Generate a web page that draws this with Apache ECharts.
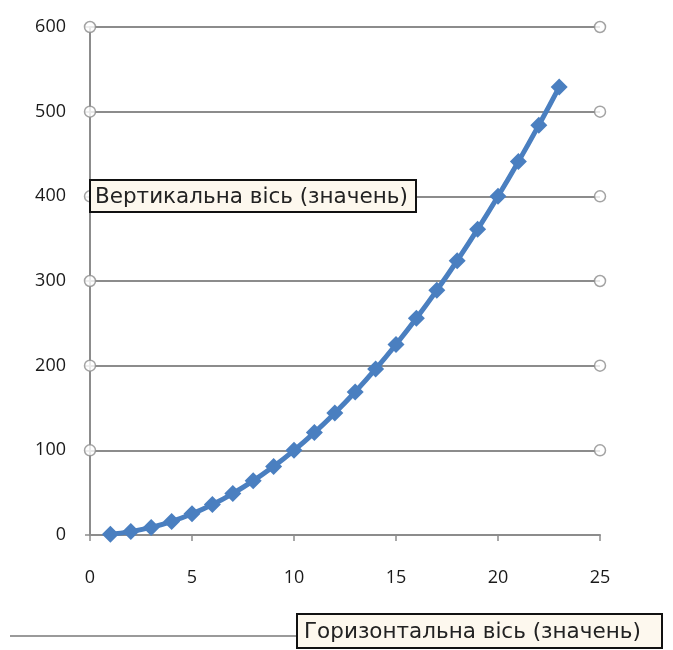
<!DOCTYPE html>
<html>
<head>
<meta charset="utf-8">
<script src="https://cdn.jsdelivr.net/npm/echarts@6/dist/echarts.min.js"></script>
<style>
  html, body { margin: 0; padding: 0; background: #fff; }
  #chart { width: 673px; height: 650px; }
</style>
</head>
<body>
<div id="chart"></div>
<script>
  // values
  const xValues = [1, 2, 3, 4, 5, 6, 7, 8, 9, 10, 11, 12, 13, 14, 15, 16, 17, 18, 19, 20, 21, 22, 23]
  const yValues = [1, 4, 9, 16, 25, 36, 49, 64, 81, 100, 121, 144, 169, 196, 225, 256, 289, 324, 361, 400, 441, 484, 529]
  const yTicks = [100, 200, 300, 400, 500, 600]
  const vLabel = "Вертикальна вісь (значень)"
  const hLabel = "Горизонтальна вісь (значень)"

  const points = xValues.map((x, i) => [x, yValues[i]])
  // little circles at both ends of every gridline
  const gridEnds = []
  yTicks.forEach((t) => {
    gridEnds.push([0, t])
    gridEnds.push([25, t])
  })

  const font = "'Open Sans', 'DejaVu Sans', sans-serif"
  const boxFont = "'DejaVu Sans', sans-serif"
  const myChart = echarts.init(document.getElementById("chart"))
  const option = {
    backgroundColor: "#fff",
    animation: false,
    grid: { left: 90, right: 73, top: 27, bottom: 115 },
    xAxis: {
      type: "value",
      min: 0,
      max: 25,
      interval: 5,
      axisLine: { show: true, lineStyle: { color: "#8c8c8c", width: 2 } },
      axisTick: { show: true, length: 6, lineStyle: { color: "#8c8c8c", width: 1.5 } },
      splitLine: { show: false },
      axisLabel: { color: "#1a1a1a", fontSize: 18, margin: 34, fontFamily: font },
    },
    yAxis: {
      type: "value",
      min: 0,
      max: 600,
      interval: 100,
      axisLine: { show: true, lineStyle: { color: "#8c8c8c", width: 2 } },
      axisTick: { show: true, length: 5, lineStyle: { color: "#8c8c8c", width: 1.5 } },
      splitLine: { show: true, lineStyle: { color: "#8c8c8c", width: 2 } },
      axisLabel: { color: "#1a1a1a", fontSize: 18, margin: 24, fontFamily: font },
    },
    series: [
      {
        type: "scatter",
        data: gridEnds,
        symbol: "circle",
        symbolSize: 11,
        silent: true,
        z: 3,
        itemStyle: { color: "#fff", borderColor: "#8c8c8c", borderWidth: 1.5 },
      },
      {
        type: "line",
        data: points,
        smooth: true,
        symbol: "diamond",
        symbolSize: 17,
        z: 5,
        lineStyle: { color: "#4a7fc0", width: 5 },
        itemStyle: { color: "#4a7fc0" },
      },
    ],
    graphic: [
      {
        type: "line",
        z: 20,
        shape: { x1: 10, y1: 636, x2: 297, y2: 636 },
        style: { stroke: "#9a9a9a", lineWidth: 2 },
      },
      {
        type: "rect",
        z: 100,
        shape: { x: 90, y: 180, width: 326, height: 32 },
        style: { fill: "#fdf8ee", stroke: "#111", lineWidth: 2 },
      },
      {
        type: "text",
        z: 101,
        style: { x: 95, y: 197, text: vLabel, fill: "#222", font: "21.5px " + boxFont, verticalAlign: "middle" },
      },
      {
        type: "rect",
        z: 100,
        shape: { x: 297, y: 614, width: 365, height: 34 },
        style: { fill: "#fdf8ee", stroke: "#111", lineWidth: 2 },
      },
      {
        type: "text",
        z: 101,
        style: { x: 304, y: 632, text: hLabel, fill: "#222", font: "21.5px " + boxFont, verticalAlign: "middle" },
      },
    ],
  }
  myChart.setOption(option)
</script>
</body>
</html>
